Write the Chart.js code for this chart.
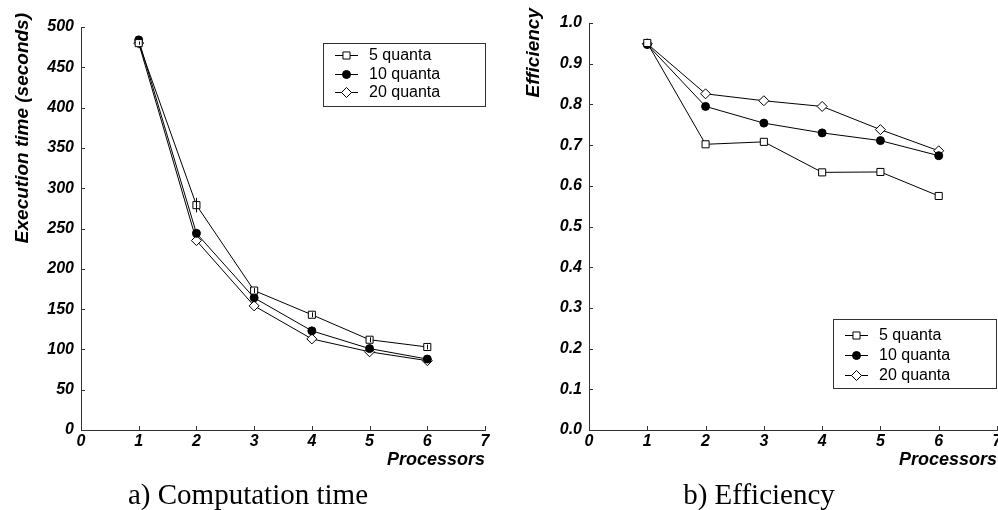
<!DOCTYPE html>
<html>
<head>
<meta charset="utf-8">
<script src="https://cdn.jsdelivr.net/npm/chart.js@4/dist/chart.umd.min.js"></script>
<style>
  body { margin: 0; background: #fff; width: 998px; height: 510px; position: relative; overflow: hidden; }
  .panel { position: absolute; top: 0; width: 499px; height: 480px; }
  .caption {
    position: absolute; top: 479px; width: 400px; text-align: center;
    font-family: "Liberation Serif", "Times New Roman", serif; font-size: 29px; line-height: 30px; color: #000;
  }
</style>
</head>
<body>
<div class="panel" style="left:0"><canvas id="timeChart" width="499" height="480"></canvas></div>
<div class="panel" style="left:499px"><canvas id="effChart" width="499" height="480"></canvas></div>
<div class="caption" style="left:48px">a) Computation time</div>
<div class="caption" style="left:559px">b) Efficiency</div>

<script>
// ---- data ----
const processors = [1, 2, 3, 4, 5, 6];
const seriesNames = ['5 quanta', '10 quanta', '20 quanta'];

const time5 = [480, 279, 173, 143, 112, 103];
const time10 = [484, 244, 164, 123, 101, 88];
const time20 = [480, 235, 154, 113, 97, 86];
const time5Err = [2, 9, 3, 3, 3, 3];

const eff5 = [0.951, 0.702, 0.708, 0.633, 0.634, 0.575];
const eff10 = [0.947, 0.795, 0.754, 0.730, 0.711, 0.674];
const eff20 = [0.949, 0.826, 0.809, 0.795, 0.738, 0.686];

Chart.defaults.font.family = '"Liberation Sans", Arial, sans-serif';
Chart.defaults.color = '#000';

const tickFont = { size: 16, weight: 'bold', style: 'italic' };
const titleFont = { size: 18, weight: 'bold', style: 'italic', lineHeight: 1.2 };

// marker looks for the three series
const markers = [
  { pointStyle: 'rect', radius: 5, fill: '#fff' },
  { pointStyle: 'circle', radius: 4, fill: '#000' },
  { pointStyle: 'rectRot', radius: 5, fill: '#fff' }
];

function makeDatasets(lists) {
  return lists.map((vals, i) => ({
    label: seriesNames[i],
    data: vals,
    borderColor: '#000',
    borderWidth: 1,
    tension: 0,
    pointStyle: markers[i].pointStyle,
    pointRadius: markers[i].radius,
    pointBackgroundColor: markers[i].fill,
    pointBorderColor: '#000',
    pointBorderWidth: 1
  }));
}

/* inward ticks, rotated y title, boxed legend, error bars */
const figurePlugin = {
  id: 'figure',
  afterDatasetsDraw(chart, args, opts) {
    if (!opts.errors) return;
    const ctx = chart.ctx;
    const y = chart.scales.y;
    const meta = chart.getDatasetMeta(0);
    const vals = chart.data.datasets[0].data;
    ctx.save();
    ctx.strokeStyle = '#000';
    ctx.lineWidth = 1;
    ctx.beginPath();
    meta.data.forEach((pt, i) => {
      const px = Math.round(pt.x) + 0.5;
      ctx.moveTo(px, y.getPixelForValue(vals[i] + opts.errors[i]));
      ctx.lineTo(px, y.getPixelForValue(vals[i] - opts.errors[i]));
    });
    ctx.stroke();
    ctx.restore();
  },
  afterDraw(chart, args, opts) {
    const ctx = chart.ctx;
    const area = chart.chartArea;
    const { x, y } = chart.scales;
    ctx.save();

    // tick marks pointing into the plot
    ctx.strokeStyle = '#333';
    ctx.lineWidth = 1;
    ctx.beginPath();
    x.ticks.forEach(t => {
      const px = Math.round(x.getPixelForValue(t.value)) + 0.5;
      ctx.moveTo(px, area.bottom);
      ctx.lineTo(px, area.bottom - 4);
    });
    y.ticks.forEach(t => {
      const py = Math.round(y.getPixelForValue(t.value)) + 0.5;
      ctx.moveTo(area.left, py);
      ctx.lineTo(area.left + 4, py);
    });
    ctx.stroke();

    // y axis title, top aligned
    ctx.save();
    ctx.translate(opts.yTitleX, opts.yTitleTop);
    ctx.rotate(-Math.PI / 2);
    ctx.font = 'italic bold 19px "Liberation Sans", Arial, sans-serif';
    ctx.fillStyle = '#000';
    ctx.textAlign = 'right';
    ctx.textBaseline = 'middle';
    ctx.fillText(opts.yTitle, 0, 0);
    ctx.restore();

    // legend box
    const lg = opts.legend;
    ctx.fillStyle = '#fff';
    ctx.fillRect(lg.x, lg.y, lg.w, lg.h);
    ctx.strokeStyle = '#333';
    ctx.strokeRect(lg.x + 0.5, lg.y + 0.5, lg.w - 1, lg.h - 1);
    ctx.font = '16px "Liberation Sans", Arial, sans-serif';
    ctx.textBaseline = 'middle';
    ctx.textAlign = 'left';
    chart.data.datasets.forEach((ds, i) => {
      const ry = Math.round(lg.y + lg.row0 + i * lg.rowGap) + 0.5;
      ctx.strokeStyle = '#000';
      ctx.beginPath();
      ctx.moveTo(lg.x + 12, ry);
      ctx.lineTo(lg.x + 35, ry);
      ctx.stroke();
      ctx.fillStyle = ds.pointBackgroundColor;
      Chart.helpers.drawPoint(ctx, { pointStyle: ds.pointStyle, radius: ds.pointRadius, rotation: 0, borderWidth: 1 }, lg.x + 23.5, ry);
      ctx.fillStyle = '#000';
      ctx.fillText(ds.label, lg.x + 46, ry);
    });
    ctx.restore();
  }
};

function axes(yMax, yStep, yWidth, fmt) {
  return {
    x: {
      type: 'linear', min: 0, max: 7,
      ticks: { stepSize: 1, padding: 2, font: tickFont, maxRotation: 0 },
      grid: { drawOnChartArea: false, drawTicks: false },
      border: { color: '#333', width: 1 },
      title: { display: true, text: 'Processors', align: 'end', font: titleFont, padding: { top: 0, bottom: 9 } },
      afterFit: s => { s.height = 50; s.paddingLeft = 0; s.paddingRight = 0; }
    },
    y: {
      min: 0, max: yMax,
      ticks: { stepSize: yStep, padding: 7, font: tickFont, callback: fmt },
      grid: { drawOnChartArea: false, drawTicks: false },
      border: { color: '#333', width: 1 },
      afterFit: s => { s.width = yWidth; s.paddingTop = 0; s.paddingBottom = 0; }
    }
  };
}

/* ------------------ a) Computation time ------------------ */
new Chart(document.getElementById('timeChart'), {
  type: 'line',
  data: { labels: processors, datasets: makeDatasets([time5, time10, time20]) },
  options: {
    responsive: false,
    animation: false,
    layout: { autoPadding: false, padding: { left: 0, right: 14, top: 27, bottom: 0 } },
    scales: axes(500, 50, 81, v => v),
    plugins: {
      legend: { display: false },
      tooltip: { enabled: false },
      figure: {
        yTitle: 'Execution time (seconds)', yTitleX: 23, yTitleTop: 13,
        errors: time5Err,
        legend: { x: 323, y: 43, w: 163, h: 64, row0: 12, rowGap: 18.5 }
      }
    }
  },
  plugins: [figurePlugin]
});

/* ------------------ b) Efficiency ------------------ */
new Chart(document.getElementById('effChart'), {
  type: 'line',
  data: { labels: processors, datasets: makeDatasets([eff5, eff10, eff20]) },
  options: {
    responsive: false,
    animation: false,
    layout: { autoPadding: false, padding: { left: 0, right: 1, top: 23, bottom: 0 } },
    scales: axes(1, 0.1, 90, v => v.toFixed(1)),
    plugins: {
      legend: { display: false },
      tooltip: { enabled: false },
      figure: {
        yTitle: 'Efficiency', yTitleX: 35, yTitleTop: 8,
        legend: { x: 334, y: 319, w: 164, h: 70, row0: 16, rowGap: 20 }
      }
    }
  },
  plugins: [figurePlugin]
});
</script>
</body>
</html>
